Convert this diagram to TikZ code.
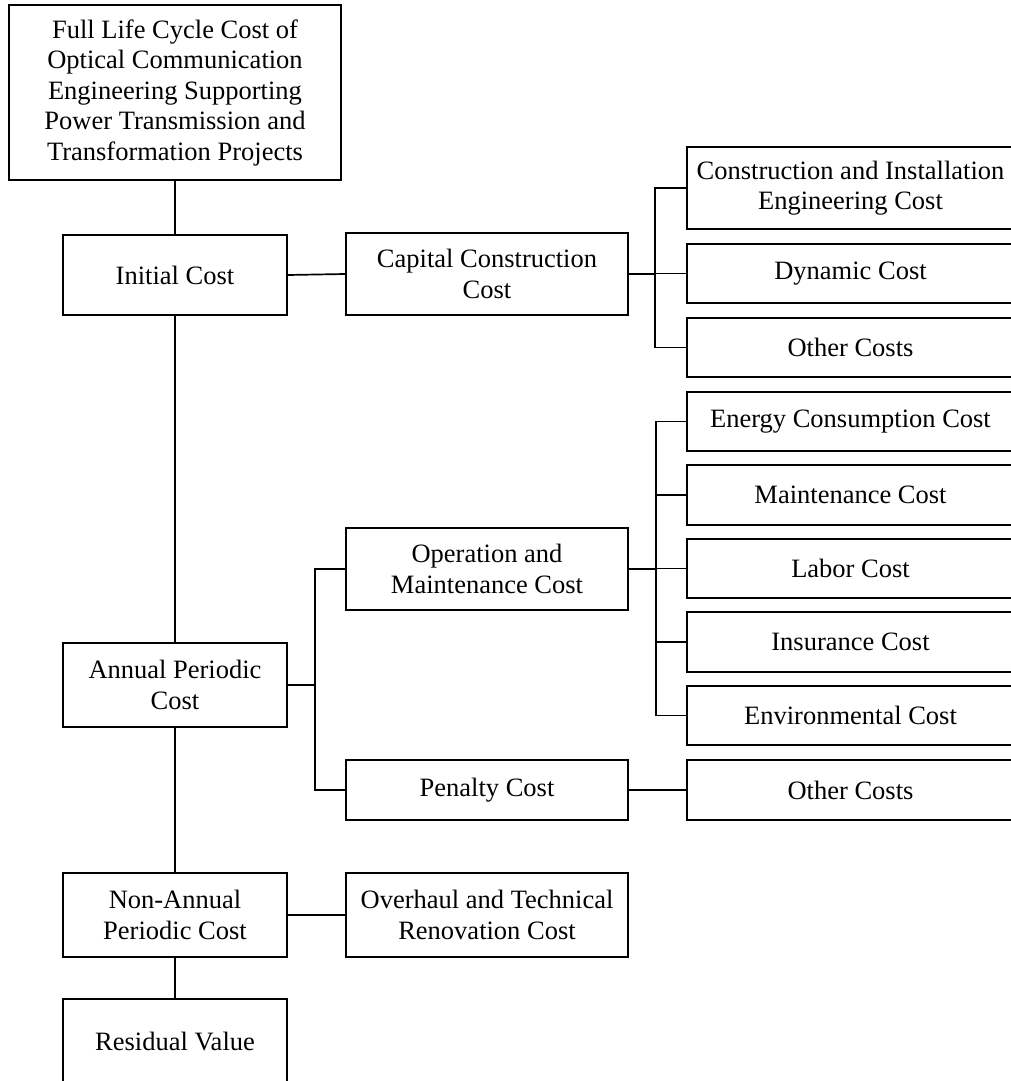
\documentclass[tikz,border=0pt]{standalone}
\usepackage{fontspec}
\setmainfont{Liberation Serif}
\begin{document}
\begin{tikzpicture}[x=1pt,y=-1pt,
  bx/.style={draw, line width=1.7pt, inner sep=0pt, align=center,
    font=\fontsize{26.5}{30.5}\selectfont},
  ln/.style={line width=1.7pt},
  lw/.style={minimum width=224pt},
  mw/.style={minimum width=282pt},
  rw/.style={minimum width=327pt}]
\useasboundingbox (0,0) rectangle (1011,1081);
\clip (0,0) rectangle (1011,1081);
% left column
\node[bx, minimum width=332pt, minimum height=175pt] (top) at (175,92.5)
  {Full Life Cycle Cost of\\Optical Communication\\Engineering Supporting\\Power Transmission and\\Transformation Projects};
\node[bx, lw, minimum height=80pt] (init) at (175,275) {Initial Cost};
\node[bx, lw, minimum height=84pt] (ann) at (175,685) {Annual Periodic\\Cost};
\node[bx, lw, minimum height=84pt] (non) at (175,915) {Non-Annual\\Periodic Cost};
\node[bx, lw, minimum height=84pt] (res) at (175,1041) {Residual Value};
% middle column
\node[bx, mw, minimum height=82pt] (cap) at (487,274) {Capital Construction\\Cost};
\node[bx, mw, minimum height=82pt] (om) at (487,569) {Operation and\\Maintenance Cost};
\node[bx, mw, minimum height=60pt] (pen) at (487,790) {Penalty Cost};
\node[bx, mw, minimum height=84pt] (ovh) at (487,915) {Overhaul and Technical\\Renovation Cost};
% right column
\node[bx, rw, minimum height=82pt] (cic) at (850.5,188) {Construction and Installation\\Engineering Cost};
\node[bx, rw, minimum height=59pt] (dyn) at (850.5,273.5) {Dynamic Cost};
\node[bx, rw, minimum height=59pt] (oc1) at (850.5,347.5) {Other Costs};
\node[bx, rw, minimum height=59pt] (ene) at (850.5,421.5) {Energy Consumption Cost};
\node[bx, rw, minimum height=60pt] (mnt) at (850.5,495) {Maintenance Cost};
\node[bx, rw, minimum height=59pt] (lab) at (850.5,568.5) {Labor Cost};
\node[bx, rw, minimum height=60pt] (ins) at (850.5,642) {Insurance Cost};
\node[bx, rw, minimum height=59pt] (env) at (850.5,715.5) {Environmental Cost};
\node[bx, rw, minimum height=60pt] (oc2) at (850.5,790) {Other Costs};
% trunk
\draw[ln] (top.south) -- (init.north);
\draw[ln] (init.south) -- (ann.north);
\draw[ln] (ann.south) -- (non.north);
\draw[ln] (non.south) -- (res.north);
% level 1 -> 2
\draw[ln] (init.east) -- (cap.west);
\draw[ln] (non.east) -- (ovh.west);
\coordinate (ja) at (315,685);
\draw[ln] (ann.east) -- (ja);
\draw[ln] (om.west) -| (ja) |- (pen.west);
% capital bracket
\coordinate (jc) at (655,274);
\draw[ln] (cap.east) -- (jc);
\draw[ln] (cic.west) -| (jc) |- (oc1.west);
\draw[ln] (jc) |- (dyn.west);
% O&M bracket
\coordinate (jo) at (656,569);
\draw[ln] (om.east) -- (jo);
\draw[ln] (ene.west) -| (jo) |- (env.west);
\draw[ln] (mnt.west) -| (jo);
\draw[ln] (lab.west) -| (jo);
\draw[ln] (ins.west) -| (jo);
% penalty
\draw[ln] (pen.east) -- (oc2.west);
\end{tikzpicture}
\end{document}
